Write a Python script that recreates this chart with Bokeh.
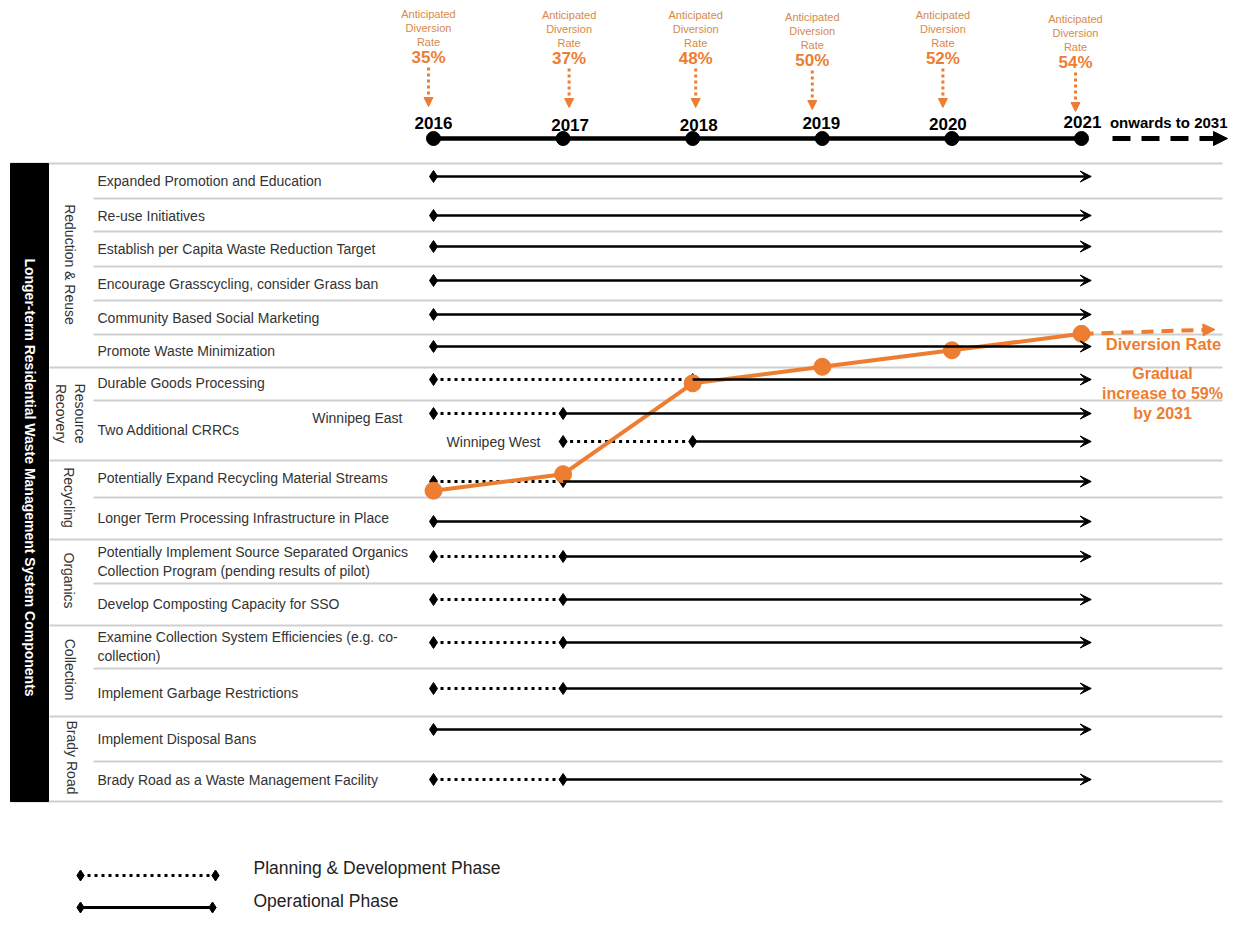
import math
from bokeh.plotting import figure
from bokeh.models import Range1d, Arrow, VeeHead, NormalHead, ColumnDataSource
from bokeh.core.properties import value
from bokeh.embed import file_html
from bokeh.resources import INLINE

# ---------------- data ----------------
years = [2016, 2017, 2018, 2019, 2020, 2021]
diversion_rate = [35, 37, 48, 50, 52, 54]
long_term_year = 2031
long_term_rate = 59

group_names = ["Reduction & Reuse", "Resource\nRecovery", "Recycling",
               "Organics", "Collection", "Brady Road"]
item_names = [
    "Expanded Promotion and Education",
    "Re-use Initiatives",
    "Establish per Capita Waste Reduction Target",
    "Encourage Grasscycling, consider Grass ban",
    "Community Based Social Marketing",
    "Promote Waste Minimization",
    "Durable Goods Processing",
    "Two Additional CRRCs",
    "Potentially Expand Recycling Material Streams",
    "Longer Term Processing Infrastructure in Place",
    "Potentially Implement Source Separated Organics\nCollection Program (pending results of pilot)",
    "Develop Composting Capacity for SSO",
    "Examine Collection System Efficiencies (e.g. co-\ncollection)",
    "Implement  Garbage Restrictions",
    "Implement Disposal Bans",
    "Brady Road as a Waste Management Facility",
]
track_notes = ["Winnipeg East", "Winnipeg West"]
# one track per timeline bar (CRRCs have two)
plan_start = [None, None, None, None, None, None, 2016, 2016, 2017, 2016, None,
              2016, 2016, 2016, 2016, None, 2016]
ops_start = [2016, 2016, 2016, 2016, 2016, 2016, 2018, 2017, 2018, 2017, 2016,
             2017, 2017, 2017, 2017, 2016, 2017]
ops_end = [2021] * 17
legend_labels = ["Planning & Development Phase", "Operational Phase"]
title_text = "Longer-term Residential Waste Management System Components"
onwards_text = "onwards to 2031"
rate_caption = "Diversion Rate"
rate_note = "Gradual\nincrease to 59%\nby 2031"

# ---------------- layout (screen pixels) ----------------
FONT = "Liberation Sans"
ORANGE = "#ED7D31"
TAN = "#d68a4c"
W, H = 1229, 913
PX_PER_YEAR = 129.6
X2016 = 433
yr0 = 2016 - X2016 / PX_PER_YEAR
yr1 = 2016 + (W - X2016) / PX_PER_YEAR
# rate axis: 35% at y=490, 8.26 px per percentage point
R_Y35, R_PX = 490.2, 8.258
rate_lo = 35 - (H - R_Y35) / R_PX
rate_hi = 35 + R_Y35 / R_PX

track_y = [176, 215, 246, 280, 314, 346, 379, 413, 441, 481, 521, 556, 599, 642, 688, 729, 779]
item_label_y = [180, 215, 248, 283, 317, 350, 382, 429, 477, 517, 561, 603, 646, 692, 738, 779]
note_x = [402, 540]
note_y = [417, 441]
group_x = [69, 70, 68, 68, 69, 71]
group_y = [264, 413, 497, 580, 669, 757]
inner_sep = [198, 231, 266, 300, 334, 400, 497, 583, 668, 761]
group_sep = [367, 460, 539, 625, 716]
outer_sep = [163, 801]
hdr_dx = [-5, 6, 3, -10, -9, -6]
hdr_dy = [0, 1, 1, 3, 1, 5]
year_dx = [0, 7, 6, -1, -4, 1]
year_dy = [0, 2, 2, 0, 1, -1]
TL_Y = 138
OVERHANG = 0.075
EXT = 1.03

p = figure(width=W, height=H, x_range=Range1d(yr0, yr1), y_range=Range1d(H, 0),
           x_axis_type=None, y_axis_type=None, toolbar_location=None,
           output_backend="svg", min_border=0, outline_line_color=None,
           background_fill_color="white", border_fill_color="white")
p.extra_x_ranges = {"px": Range1d(0, W)}
p.extra_y_ranges = {"rate": Range1d(rate_lo, rate_hi)}

def txt(x, y, text, size, color="#333333", bold=False, align="left", baseline="middle",
        angle=0, xr="px", yr="default", **kw):
    return p.text(x=x, y=y, text=text, text_font=value(FONT), text_font_size=value(size),
                  text_color=color, text_font_style="bold" if bold else "normal",
                  text_align=align, text_baseline=baseline, angle=angle,
                  x_range_name=xr, y_range_name=yr, text_line_height=1.18, **kw)

# ---- table structure ----
p.segment(x0=93, x1=1222, y0=inner_sep, y1=inner_sep, x_range_name="px",
          line_color="#cfcfcf", line_width=2)
p.segment(x0=49, x1=1222, y0=group_sep, y1=group_sep, x_range_name="px",
          line_color="#cfcfcf", line_width=2)
p.segment(x0=10, x1=1222, y0=outer_sep, y1=outer_sep, x_range_name="px",
          line_color="#cfcfcf", line_width=2)
p.quad(left=10, right=48, top=outer_sep[0], bottom=outer_sep[1], x_range_name="px",
       fill_color="black", line_color="black")
txt([29], [477], [title_text], "14px", color="white", bold=True, align="center",
    angle=-math.pi / 2)
txt(group_x, group_y, group_names, "14px", color="#333333", align="center",
    angle=-math.pi / 2)
txt([97] * len(item_names), item_label_y, item_names, "14px")
txt(note_x, note_y, track_notes, "14px", align="right")

# ---- header timeline ----
p.line(x=years, y=[TL_Y] * len(years), line_color="black", line_width=4.5)
p.scatter(x=years, y=[TL_Y] * len(years), size=14, color="black")
txt(years, [122] * len(years), [str(y) for y in years], "17px", color="black", bold=True,
    align="center", xr="default", y_offset=year_dy, x_offset=year_dx)
hx = [y + d / PX_PER_YEAR for y, d in zip(years, hdr_dx)]
txt(hx, [7 + d for d in hdr_dy], ["Anticipated\nDiversion\nRate"] * len(years), "11px",
    color=TAN, align="center", baseline="top", xr="default")
txt(hx, [57 + d for d in hdr_dy], [f"{r}%" for r in diversion_rate], "17px",
    color=ORANGE, bold=True, align="center", xr="default")
hsrc = ColumnDataSource(dict(x=hx, y0=[67 + d for d in hdr_dy], y1=[106 + d for d in hdr_dy]))
p.add_layout(Arrow(x_start="x", y_start="y0", x_end="x", y_end="y1", source=hsrc,
                   line_color=ORANGE, line_width=3, line_dash="3 3",
                   end=NormalHead(size=9, fill_color=ORANGE, line_color=ORANGE, line_width=1)))
p.add_layout(Arrow(x_start=1112, y_start=TL_Y, x_end=1227, y_end=TL_Y, x_range_name="px",
                   line_color="black", line_width=5, line_dash="18 11",
                   end=NormalHead(size=14, fill_color="black", line_color="black", line_width=1)))
txt([1227], [122], [onwards_text], "15px", color="black", bold=True, align="right")

# ---- activity tracks ----
pl = [(s, e, y) for s, e, y in zip(plan_start, ops_start, track_y) if s is not None]
p.segment(x0=[a[0] for a in pl], x1=[a[1] for a in pl], y0=[a[2] for a in pl],
          y1=[a[2] for a in pl], line_color="black", line_width=3, line_dash="3 4")
osrc = ColumnDataSource(dict(x0=ops_start, x1=[e + OVERHANG for e in ops_end], y=track_y))
p.add_layout(Arrow(x_start="x0", y_start="y", x_end="x1", y_end="y", source=osrc,
                   line_color="black", line_width=2.5,
                   end=VeeHead(size=11, fill_color="black", line_color="black", line_width=1)))
p.scatter(x=[a[0] for a in pl] + ops_start, y=[a[2] for a in pl] + track_y,
          marker="diamond", size=12, color="black")

# ---- diversion rate line ----
p.line(x=years, y=diversion_rate, y_range_name="rate", line_color=ORANGE, line_width=4)
p.scatter(x=years, y=diversion_rate, y_range_name="rate", size=17, color=ORANGE)
slope = (long_term_rate - diversion_rate[-1]) / (long_term_year - years[-1])
p.add_layout(Arrow(x_start=years[-1], y_start=diversion_rate[-1], x_end=years[-1] + EXT,
                   y_end=diversion_rate[-1] + EXT * slope, y_range_name="rate",
                   line_color=ORANGE, line_width=4, line_dash="12 8",
                   end=NormalHead(size=12, fill_color=ORANGE, line_color=ORANGE, line_width=1)))
txt([1163], [343], [rate_caption], "16.5px", color=ORANGE, bold=True, align="center")
txt([1162], [393], [rate_note], "16px", color=ORANGE, bold=True, align="center")

# ---- legend ----
p.segment(x0=[80], x1=[215], y0=[875], y1=[875], x_range_name="px",
          line_color="black", line_width=3, line_dash="3 4")
p.segment(x0=[80], x1=[212], y0=[907], y1=[907], x_range_name="px",
          line_color="black", line_width=3)
p.scatter(x=[80, 215, 80, 212], y=[875, 875, 907, 907], x_range_name="px",
          marker="diamond", size=11, color="black")
txt([253, 253], [867, 900], legend_labels, "17.5px", color="#222222")

open("out.html", "w").write(file_html(p, INLINE))
